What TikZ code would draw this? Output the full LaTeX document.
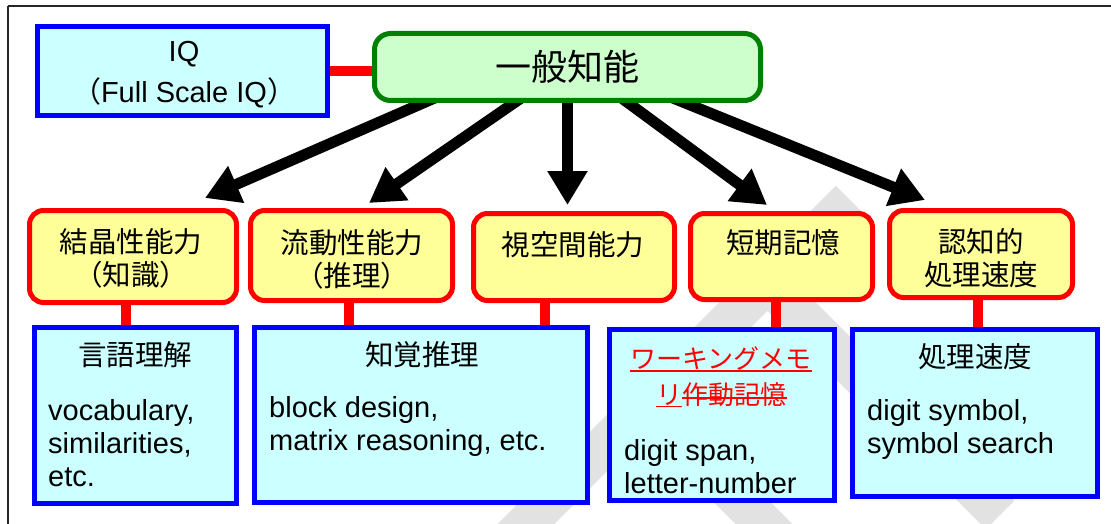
\documentclass[tikz,border=0pt]{standalone}
\usepackage{fontspec}
\setmainfont{Liberation Sans}
\newfontfamily\jp{Noto Sans CJK JP}
\usetikzlibrary{arrows.meta,backgrounds}
\definecolor{boxblue}{HTML}{0000FF}
\definecolor{cyanfill}{HTML}{CCFFFF}
\definecolor{yfill}{HTML}{FFFF99}
\definecolor{ggreen}{HTML}{008000}
\definecolor{gfill}{HTML}{CCFFCC}
\definecolor{wmgray}{HTML}{E2E2E2}
\begin{document}
\begin{tikzpicture}[x=1pt,y=-1pt,
  bbox/.style={draw=boxblue, line width=5pt, fill=cyanfill, inner sep=0pt},
  ybox/.style={draw=red, line width=5pt, fill=yfill, rounded corners=14pt, inner sep=0pt},
  gbox/.style={draw=ggreen, line width=5pt, fill=gfill, rounded corners=16pt, inner sep=0pt},
  jptext/.style={font=\jp\fontsize{28.5}{33}\selectfont, inner sep=0pt, align=center},
  redtext/.style={font=\jp\fontsize{26}{30}\selectfont, text=red, inner sep=0pt},
  entext/.style={font=\fontsize{29}{33}\selectfont, inner sep=0pt, align=left, anchor=west},
  bigarrow/.style={line width=11pt, -{Triangle[length=34pt,width=38pt]}},
  redlink/.style={draw=red, line width=10pt},
  redline/.style={draw=red, line width=1.6pt},
  wmband/.style={draw=wmgray, line width=40pt},
  frameline/.style={draw=black!85, line width=1.6pt}]
\useasboundingbox (0,0) rectangle (1111,524);

% top node and IQ
\node[gbox, minimum width=386pt, minimum height=67pt,
      font=\jp\fontsize{36}{40}\selectfont] (gen) at (567.5,67) {一般知能};
\node[bbox, minimum width=290pt, minimum height=89pt] (iq) at (182.5,71) {};
\node[align=center, inner sep=0pt, font=\fontsize{29}{41}\selectfont] (iqt) at (184,75)
      {IQ\\{\jp （}Full Scale IQ{\jp ）}};

% arrow tips
\coordinate (t1) at (205,198);
\coordinate (t2) at (369,203);
\coordinate (t3) at (567.5,205);
\coordinate (t4) at (767,205);
\coordinate (t5) at (925,200);

% yellow boxes
\node[ybox, minimum width=207pt, minimum height=92pt] (y1) at (133,256.5) {};
\node[jptext] (y1t) at (131,258) {結晶性能力\\（知識）};
\node[ybox, minimum width=202pt, minimum height=90pt] (y2) at (351.5,255.5) {};
\node[jptext] (y2t) at (352,259) {流動性能力\\（推理）};
\node[ybox, minimum width=201pt, minimum height=87pt] (y3) at (574,257) {};
\node[jptext] (y3t) at (573,245) {視空間能力};
\node[ybox, minimum width=182pt, minimum height=86pt] (y4) at (781.5,256.5) {};
\node[jptext] (y4t) at (783,243) {短期記憶};
\node[ybox, minimum width=183pt, minimum height=87pt] (y5) at (981,254) {};
\node[jptext] (y5t) at (981,258) {認知的\\処理速度};

% blue boxes
\node[bbox, minimum width=202pt, minimum height=176pt] (b1) at (135.5,415.5) {};
\node[jptext] (b1t) at (135,355) {言語理解};
\node[entext] (b1b) at (48,443) {vocabulary,\\similarities,\\etc.};

\node[bbox, minimum width=333pt, minimum height=175pt] (b2) at (421,415) {};
\node[jptext] (b2t) at (422,355) {知覚推理};
\node[entext] (b2b) at (269,426.5) {block design,\\matrix reasoning, etc.};

\node[bbox, minimum width=225pt, minimum height=171pt] (b3) at (722,415) {};
\node[redtext] (wm1) at (721,358) {ワーキングメモ};
\node[redtext, anchor=west] (wm2a) at (656,395) {リ};
\node[redtext, anchor=west] (wm2b) at (wm2a.east) {作動記憶};
\node[entext] (b3b) at (624,466.5) {digit span,\\letter-number};

\node[bbox, minimum width=245pt, minimum height=167pt] (b4) at (975,413) {};
\node[jptext] (b4t) at (975,357) {処理速度};
\node[entext] (b4b) at (867,429) {digit symbol,\\symbol search};

% red underline / strike
\draw[redline] ([yshift=-1pt]wm1.south west) -- ([yshift=-1pt]wm1.south east);
\draw[redline] ([yshift=-1pt]wm2a.south west) -- ([yshift=-1pt]wm2a.south east);
\draw[redline] ([yshift=-3pt]wm2b.west) -- ([yshift=-3pt]wm2b.east);

\begin{scope}[on background layer]
  % watermark
  \draw[wmband] (850,200) -- (500,550);
  \draw[wmband] (755,270) -- (1000,515);
  \draw[wmband] (640,400) -- (790,550);
  % frame
  \draw[frameline] (8,6) -- (1111,6);
  \draw[frameline] (8,6) -- (8,524);
  % connectors
  \draw[redlink] (iq.east) -- (iq.east -| gen.west);
  \draw[redlink] ([xshift=-7pt]y1.south) -- ([xshift=-9.5pt]b1.north);
  \draw[redlink] ([xshift=-2.5pt]y2.south) -- ([xshift=-72pt]b2.north);
  \draw[redlink] ([xshift=-29pt]y3.south) -- ([xshift=124pt]b2.north);
  \draw[redlink] ([xshift=-5.5pt]y4.south) -- ([xshift=54pt]b3.north);
  \draw[redlink] ([xshift=-3pt]y5.south) -- ([xshift=3pt]b4.north);
  % arrows
  \draw[bigarrow] ([xshift=-126pt,yshift=8pt]gen.south) -- (t1);
  \draw[bigarrow] ([xshift=-42pt,yshift=8pt]gen.south) -- (t2);
  \draw[bigarrow] ([yshift=8pt]gen.south) -- (t3);
  \draw[bigarrow] ([xshift=50pt,yshift=8pt]gen.south) -- (t4);
  \draw[bigarrow] ([xshift=98pt,yshift=8pt]gen.south) -- (t5);
\end{scope}
\end{tikzpicture}
\end{document}
